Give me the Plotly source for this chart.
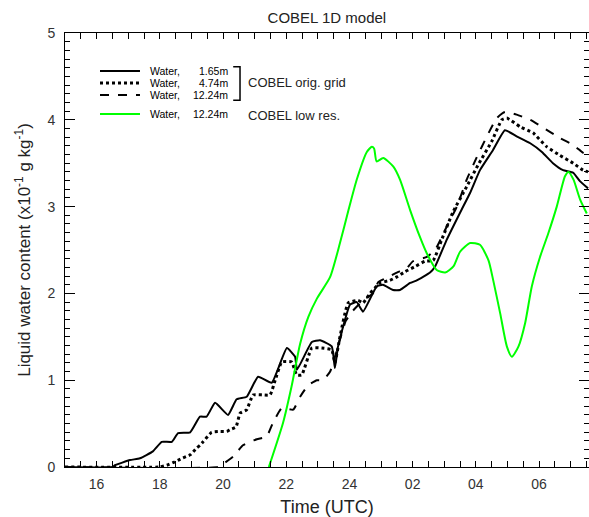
import plotly.graph_objects as go

# ---------------- data (hours since 00 UTC of day 1; >24 = next day) ----------------
t_solid = [15.0, 16.5, 16.58, 17.06, 17.37, 17.78, 18.06, 18.38, 18.58, 18.96, 19.27, 19.48,
           19.75, 20.16, 20.43, 20.75, 21.11, 21.54, 22.02, 22.28, 22.34, 22.81, 23.07, 23.44,
           23.54, 23.64, 24.02, 24.23, 24.43, 24.86, 25.06, 25.38, 25.6, 25.92, 26.13, 26.55,
           26.71, 27.08, 27.5, 27.82, 28.13, 28.54, 28.92, 29.29, 29.72, 30.09, 30.44, 30.76,
           31.08, 31.3, 31.55]
v_solid = [0.0, 0.0, 0.02, 0.08, 0.10, 0.18, 0.29, 0.29, 0.39, 0.40, 0.58, 0.58,
           0.74, 0.60, 0.78, 0.81, 1.04, 0.97, 1.37, 1.27, 1.12, 1.44, 1.46, 1.39,
           1.14, 1.39, 1.87, 1.90, 1.79, 2.08, 2.10, 2.04, 2.04, 2.12, 2.15, 2.24,
           2.31, 2.62, 2.93, 3.16, 3.42, 3.65, 3.88, 3.81, 3.73, 3.63, 3.50, 3.42,
           3.39, 3.29, 3.21]

t_dot = [15.0, 18.0, 18.22, 18.48, 18.7, 18.96, 19.17, 19.27, 19.37, 19.64, 19.9, 20.12,
         20.22, 20.41, 20.54, 20.75, 20.95, 21.27, 21.49, 21.65, 21.86, 22.17, 22.33, 22.49,
         22.81, 23.12, 23.44, 23.54, 23.7, 23.96, 24.27, 24.43, 24.65, 24.97, 25.28, 25.5,
         25.76, 26.08, 26.39, 26.65, 26.92, 27.28, 27.71, 28.07, 28.5, 28.82, 28.98, 29.4,
         29.81, 30.24, 30.66, 31.08, 31.39, 31.55]
v_dot = [0.0, 0.0, 0.02, 0.06, 0.10, 0.14, 0.22, 0.25, 0.29, 0.40, 0.41, 0.41,
         0.43, 0.46, 0.62, 0.66, 0.83, 0.83, 0.83, 1.0, 1.21, 1.21, 1.06, 1.06,
         1.37, 1.37, 1.35, 1.20, 1.50, 1.89, 1.92, 1.89, 2.0, 2.12, 2.15, 2.19,
         2.25, 2.31, 2.37, 2.38, 2.62, 2.94, 3.23, 3.48, 3.75, 4.0, 4.02, 3.92,
         3.85, 3.69, 3.59, 3.50, 3.42, 3.40]

t_dash = [15.0, 19.84, 20.06, 20.32, 20.63, 21.07, 21.38, 21.58, 21.86, 22.22, 22.44, 22.69,
          22.97, 23.16, 23.39, 23.64, 23.88, 24.11, 24.43, 24.75, 24.91, 25.18, 25.5, 25.81,
          26.01, 26.45, 26.71, 27.08, 27.4, 27.71, 28.03, 28.35, 28.66, 28.92, 29.29, 29.72,
          30.13, 30.66, 31.08, 31.39, 31.55]
v_dash = [0.0, 0.0, 0.05, 0.12, 0.25, 0.32, 0.35, 0.51, 0.68, 0.66, 0.81, 0.94,
          1.0, 1.0, 1.10, 1.39, 1.68, 1.80, 1.92, 2.0, 2.13, 2.18, 2.24, 2.29,
          2.37, 2.42, 2.5, 2.77, 3.0, 3.31, 3.57, 3.81, 4.02, 4.09, 4.06, 4.0,
          3.91, 3.79, 3.71, 3.62, 3.59]

t_low = [21.45, 21.9, 22.17, 22.44, 22.7, 22.97, 23.39, 23.7, 23.97, 24.23, 24.55, 24.71,
         24.78, 24.86, 25.07, 25.39, 25.6, 25.92, 26.23, 26.45, 26.76, 27.03, 27.29, 27.5,
         27.82, 28.13, 28.4, 28.55, 28.77, 28.98, 29.14, 29.35, 29.56, 29.77, 30.03, 30.29,
         30.56, 30.82, 30.93, 31.09, 31.3, 31.51]
v_low = [0.0, 0.51, 0.93, 1.42, 1.73, 1.94, 2.19, 2.58, 2.96, 3.31, 3.63, 3.69,
         3.67, 3.52, 3.56, 3.46, 3.31, 2.96, 2.65, 2.46, 2.27, 2.24, 2.31, 2.48,
         2.58, 2.56, 2.38, 2.15, 1.77, 1.39, 1.27, 1.39, 1.66, 2.08, 2.42, 2.69,
         3.0, 3.35, 3.40, 3.31, 3.08, 2.92]

tick_hours = [16, 18, 20, 22, 24, 26, 28, 30]
tick_labels = ["16", "18", "20", "22", "24", "02", "04", "06"]

legend_heights = ["1.65m", "4.74m", "12.24m", "12.24m"]
legend_dash = ["solid", "dot", "dash", "solid"]
legend_color = ["black", "black", "black", "#00ff00"]
legend_width = [2, 3, 2, 2]
legend_row_y = [0.9124, 0.8848, 0.8571, 0.8134]   # paper coords of legend rows

FONT = "Liberation Sans"
TXT = "#222222"

# ---------------- figure ----------------
fig = go.Figure()
fig.add_trace(go.Scatter(x=t_solid, y=v_solid, mode="lines", showlegend=False,
                         line=dict(color="black", width=2, shape="spline", smoothing=0.4)))
fig.add_trace(go.Scatter(x=t_dot, y=v_dot, mode="lines", showlegend=False,
                         line=dict(color="black", width=3, dash="dot", shape="spline", smoothing=0.4)))
fig.add_trace(go.Scatter(x=t_dash, y=v_dash, mode="lines", showlegend=False,
                         line=dict(color="black", width=2, dash="dash", shape="spline", smoothing=0.4)))
fig.add_trace(go.Scatter(x=t_low, y=v_low, mode="lines", showlegend=False,
                         line=dict(color="#00ff00", width=2, shape="spline", smoothing=0.6)))

half_hours = [15 + 0.5 * i for i in range(34)]
tt = [tick_labels[tick_hours.index(h)] if h in tick_hours else "" for h in half_hours]

tickfont = dict(family=FONT, size=14, color="#333333")

fig.update_layout(
    width=589, height=517,
    margin=dict(l=65, r=0, t=33, b=50),
    paper_bgcolor="white", plot_bgcolor="white",
    title=dict(text="COBEL 1D model", x=0.555, xanchor="center", y=0.966, yanchor="middle",
               font=dict(family=FONT, size=15, color=TXT)),
    showlegend=False,
    xaxis=dict(range=[15, 31.58], showline=True, linecolor="black", linewidth=1,
               mirror="ticks", ticks="inside", ticklen=6, tickcolor="black",
               tickvals=half_hours, ticktext=tt, tickfont=tickfont, showgrid=False, zeroline=False,
               ticklabelstandoff=4,
               title=dict(text="Time (UTC)", font=dict(family=FONT, size=18, color=TXT),
                          standoff=9)),
    yaxis=dict(range=[0, 5], showline=True, linecolor="black", linewidth=1,
               mirror="ticks", ticks="inside", ticklen=10, tickcolor="black",
               dtick=1, tick0=0, tickfont=tickfont, showgrid=False, zeroline=False,
               ticklabelstandoff=6,
               minor=dict(dtick=0.1, ticks="inside", ticklen=5, tickcolor="black", showgrid=False),
               title=dict(text="Liquid water content (x10<sup>-1</sup> g kg<sup>-1</sup>)",
                          font=dict(family=FONT, size=17, color=TXT), standoff=12)),
)

# custom legend (samples + texts)
for i in range(4):
    yy = legend_row_y[i]
    fig.add_shape(type="line", xref="paper", yref="paper", x0=0.0668, x1=0.1431, y0=yy, y1=yy,
                  line=dict(color=legend_color[i], width=legend_width[i], dash=legend_dash[i]))
    fig.add_annotation(text="Water,", xref="paper", yref="paper", x=0.158, y=yy,
                       xanchor="left", yanchor="middle", showarrow=False,
                       font=dict(family=FONT, size=10.5, color="black"))
    fig.add_annotation(text=legend_heights[i], xref="paper", yref="paper", x=0.3149, y=yy,
                       xanchor="right", yanchor="middle", showarrow=False,
                       font=dict(family=FONT, size=10.5, color="black"))

# bracket grouping the first three legend entries and group captions
fig.add_shape(type="path", xref="paper", yref="paper",
              path="M 0.321 0.922 L 0.334 0.922 L 0.334 0.845 L 0.321 0.845",
              line=dict(color="black", width=1.5))
fig.add_annotation(text="COBEL orig. grid", xref="paper", yref="paper", x=0.346, y=0.8848,
                   xanchor="left", yanchor="middle", showarrow=False,
                   font=dict(family=FONT, size=13, color=TXT))
fig.add_annotation(text="COBEL low res.", xref="paper", yref="paper", x=0.346, y=0.810,
                   xanchor="left", yanchor="middle", showarrow=False,
                   font=dict(family=FONT, size=13, color=TXT))

fig.write_html("out.html")
